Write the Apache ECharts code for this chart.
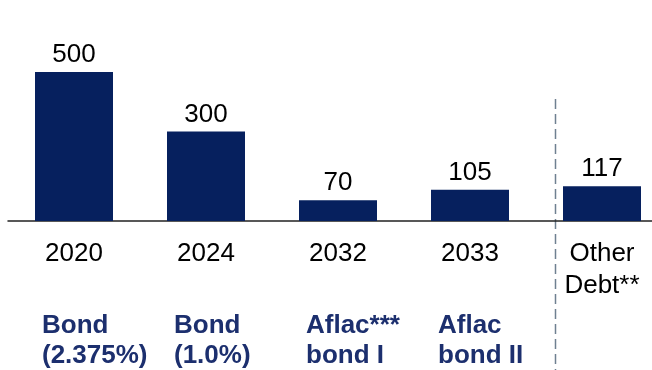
<!DOCTYPE html>
<html>
<head>
<meta charset="utf-8">
<script src="https://cdn.jsdelivr.net/npm/echarts@6/dist/echarts.min.js"></script>
<style>
  html, body { margin: 0; padding: 0; background: #fff; }
  #chart { width: 652px; height: 370px; }
</style>
</head>
<body>
<div id="chart"></div>
<script>
// Debt maturities (amounts) by year
const categories = ['2020', '2024', '2032', '2033', 'Other\nDebt**'];
const amounts = [500, 300, 70, 105, 117];
const instruments = ['Bond\n(2.375%)', 'Bond\n(1.0%)', 'Aflac***\nbond I', 'Aflac\nbond II', ''];

const FONT = 'Arial, "Liberation Sans", sans-serif';
const chart = echarts.init(document.getElementById('chart'), null, { renderer: 'canvas' });

chart.setOption({
  animation: false,
  // plot area runs a little past the right edge of the page
  grid: { left: 8, width: 660, top: 72, bottom: 149, containLabel: false, outerBoundsMode: 'none' },
  xAxis: {
    type: 'category',
    data: categories,
    axisLine: { lineStyle: { color: '#222', width: 1.5 } },
    axisTick: { show: false },
    axisLabel: {
      color: '#000',
      fontFamily: FONT,
      fontSize: 26,
      lineHeight: 32,
      margin: 17,
      verticalAlign: 'top'
    }
  },
  yAxis: {
    type: 'value',
    min: 0,
    max: 500,
    show: false,
    splitLine: { show: false }
  },
  series: [{
    type: 'bar',
    data: amounts,
    barWidth: 78,
    itemStyle: { color: '#06205E' },
    label: {
      show: true,
      position: 'top',
      distance: 4,
      color: '#000',
      fontFamily: FONT,
      fontSize: 26
    }
  }]
});

// Instrument names under the years, plus the separator before "Other Debt"
function drawOverlay() {
  const elements = [];
  instruments.forEach((name, i) => {
    if (!name) return;
    const cx = chart.convertToPixel({ xAxisIndex: 0 }, i);
    elements.push({
      type: 'text',
      x: cx - 32,
      y: 311,
      style: {
        text: name,
        fill: '#1C2F6E',
        font: 'bold 26px ' + FONT,
        lineHeight: 30,
        textAlign: 'left',
        textVerticalAlign: 'top'
      }
    });
  });
  const xLast = chart.convertToPixel({ xAxisIndex: 0 }, categories.length - 1);
  elements.push({
    type: 'line',
    shape: { x1: xLast - 46.5, y1: 99, x2: xLast - 46.5, y2: 370 },
    style: { stroke: '#6F8091', lineWidth: 1.5, lineDash: [10, 5] }
  });
  chart.setOption({ graphic: elements });
}
drawOverlay();
</script>
</body>
</html>
